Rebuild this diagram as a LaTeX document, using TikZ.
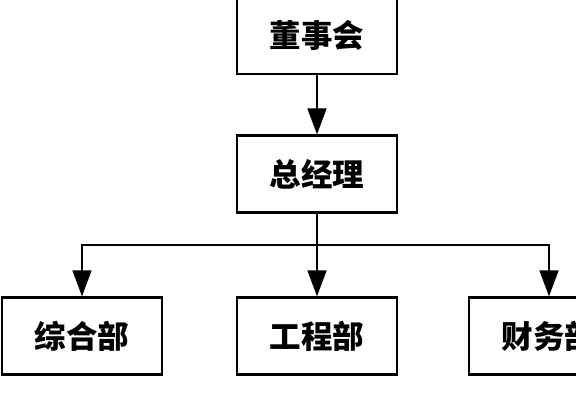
\documentclass[tikz,border=0pt]{standalone}
\usepackage{fontspec}
\newfontfamily\cjk{Noto Sans CJK SC}
\usetikzlibrary{arrows.meta}
\tikzset{
   arrow/.style = {-{Triangle[length=26pt,width=19pt]},line width=1.5pt},
   branch/.style = {line width=1.5pt},
   unit/.style = {rectangle,draw,line width=2.2pt,minimum height=77pt,minimum width=160pt,
                  inner sep=0pt,font=\cjk\bfseries\fontsize{31.5}{31.5}\selectfont},
}
\begin{document}
\begin{tikzpicture}
      \useasboundingbox (0pt,0pt) rectangle (576pt,-420pt);

      \node[unit] (board) at (317pt,-35.5pt) {董事会};
      \node[unit] (gm)    at (317pt,-174pt)  {总经理};
      \node[unit] (admin) at (82pt,-336pt)   {综合部};
      \node[unit] (eng)   at (317pt,-336pt)  {工程部};
      \node[unit] (fin)   at (549pt,-336pt)  {财务部};

      \coordinate (split) at (317pt,-245pt);

      \draw[arrow]  (board.south) -- (gm.north);
      \draw[branch] (gm.south)    -- (split);
      \draw[arrow]  (split)       -| (admin.north);
      \draw[arrow]  (split)       -- (eng.north);
      \draw[arrow]  (split)       -| (fin.north);

\end{tikzpicture}
\end{document}
